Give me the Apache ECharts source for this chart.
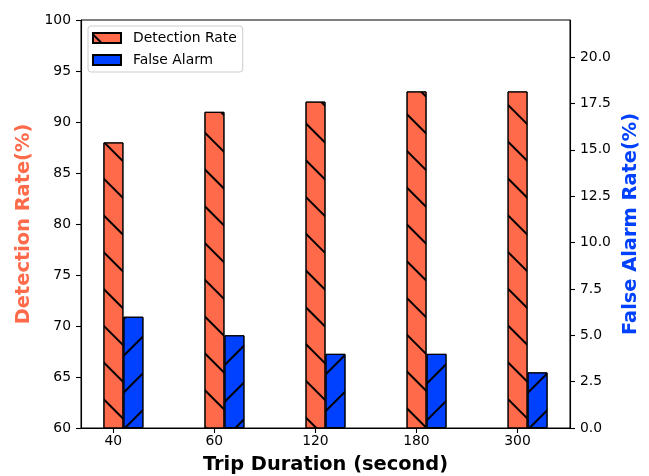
<!DOCTYPE html>
<html>
<head>
<meta charset="utf-8">
<script src="https://cdn.jsdelivr.net/npm/echarts@6/dist/echarts.min.js"></script>
<style>html,body{margin:0;padding:0;background:#fff}#c{width:649px;height:476px}</style>
</head>
<body>
<div id="c"></div>
<script>
const categories = ['40', '60', '120', '180', '300'];
const detectionRate = [88, 91, 92, 93, 93];
const falseAlarm = [6, 5, 4, 4, 3];
const leftTicks = [60, 65, 70, 75, 80, 85, 90, 95, 100];
const rightTicks = [0, 2.5, 5, 7.5, 10, 12.5, 15, 17.5, 20];

const FONT = 'DejaVu Sans';
const RED = '#ff6a4a';
const BLUE = '#0040ff';
const pos = categories.map((c, i) => i);

const chart = echarts.init(document.getElementById('c'), null, {renderer: 'canvas'});
chart.setOption({
  animation: false,
  backgroundColor: '#fff',
  textStyle: {fontFamily: FONT},
  grid: {left: 81, right: 79, top: 20, bottom: 48, outerBoundsMode: 'none', containLabel: false,
    show: true, borderColor: '#000', borderWidth: 1, backgroundColor: 'transparent'},
  legend: {
    left: 88, top: 26, orient: 'vertical', icon: 'rect',
    itemWidth: 28, itemHeight: 10, itemGap: 8,
    padding: [5, 6, 5, 4],
    borderColor: '#cccccc', borderWidth: 1, borderRadius: 3,
    backgroundColor: 'rgba(255,255,255,0.8)',
    textStyle: {fontFamily: FONT, fontSize: 13.9, color: '#000', padding: [0, 0, 0, 7]},
    data: ['Detection Rate', 'False Alarm']
  },
  xAxis: {
    type: 'value', min: -0.32, max: 4.52,
    name: 'Trip Duration (second)', nameLocation: 'middle', nameGap: 27,
    nameTextStyle: {fontFamily: FONT, fontSize: 19.4, fontWeight: 'bold', color: '#000'},
    axisLine: {show: true, onZero: false, lineStyle: {color: '#000', width: 1.1}},
    axisTick: {show: true, inside: false, length: 5, lineStyle: {color: '#000', width: 1.1}, customValues: pos},
    axisLabel: {fontFamily: FONT, fontSize: 13.9, color: '#000', margin: 6, customValues: pos,
      formatter: v => categories[Math.round(v)]},
    splitLine: {show: false}
  },
  yAxis: [{
    type: 'value', position: 'left', min: 60, max: 100, interval: 5,
    name: 'Detection Rate(%)', nameLocation: 'middle', nameGap: 43, nameRotate: 90,
    nameTextStyle: {fontFamily: FONT, fontSize: 19.4, fontWeight: 'bold', color: RED},
    axisLine: {show: true, onZero: false, lineStyle: {color: '#000', width: 1.1}},
    axisTick: {show: true, length: 5, lineStyle: {color: '#000', width: 1.1}, customValues: leftTicks},
    axisLabel: {fontFamily: FONT, fontSize: 13.9, color: '#000', margin: 10, customValues: leftTicks},
    splitLine: {show: false}
  }, {
    type: 'value', position: 'right', min: 0, max: 22,
    name: 'False Alarm Rate(%)', nameLocation: 'middle', nameGap: 44, nameRotate: 90,
    nameTextStyle: {fontFamily: FONT, fontSize: 19.4, fontWeight: 'bold', color: BLUE},
    axisLine: {show: true, onZero: false, lineStyle: {color: '#000', width: 1.1}},
    axisTick: {show: true, length: 5, lineStyle: {color: '#000', width: 1.1}, customValues: rightTicks},
    axisLabel: {fontFamily: FONT, fontSize: 13.9, color: '#000', margin: 10, customValues: rightTicks,
      formatter: v => v.toFixed(1)},
    splitLine: {show: false}
  }],
  series: [{
    name: 'Detection Rate', type: 'bar', xAxisIndex: 0, yAxisIndex: 0,
    barWidth: 20, barGap: '0%',
    itemStyle: {color: RED, borderColor: '#000', borderWidth: 1,
      decal: {symbol: 'rect', symbolSize: 1, dashArrayX: [1, 0], dashArrayY: [1.3, 23.4], rotation: Math.PI / 4, color: '#000'}},
    data: detectionRate.map((v, i) => [pos[i] + 0.1, v])
  }, {
    name: 'False Alarm', type: 'bar', xAxisIndex: 0, yAxisIndex: 1,
    barWidth: 20, barGap: '0%',
    itemStyle: {color: BLUE, borderColor: '#000', borderWidth: 1,
      decal: {symbol: 'rect', symbolSize: 1, dashArrayX: [1, 0], dashArrayY: [1.3, 23.4], rotation: -Math.PI / 4, color: '#000'}},
    data: falseAlarm.map((v, i) => [pos[i] + 0.1, v])
  }]
});
</script>
</body>
</html>
